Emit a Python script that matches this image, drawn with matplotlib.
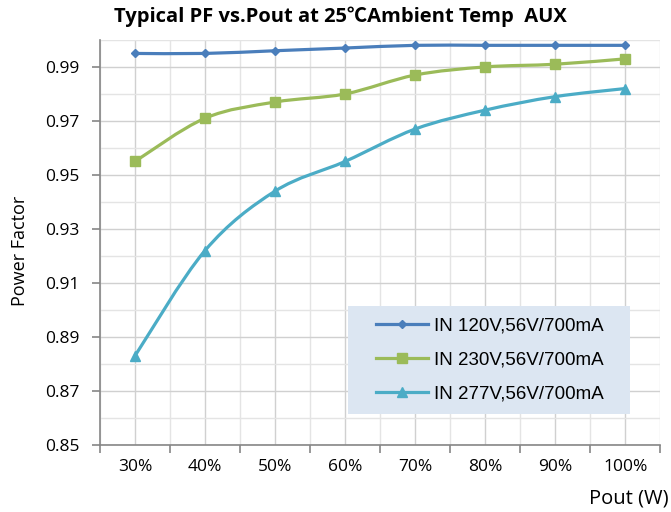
import numpy as np
import matplotlib
matplotlib.use("Agg")
import matplotlib.pyplot as plt
from matplotlib.path import Path
from matplotlib.patches import PathPatch, Rectangle
from matplotlib.lines import Line2D

categories = ["30%", "40%", "50%", "60%", "70%", "80%", "90%", "100%"]
pf_120v = [0.995, 0.995, 0.996, 0.997, 0.998, 0.998, 0.998, 0.998]
pf_230v = [0.955, 0.971, 0.977, 0.980, 0.987, 0.990, 0.991, 0.993]
pf_277v = [0.883, 0.922, 0.944, 0.955, 0.967, 0.974, 0.979, 0.982]
labels = ["IN 120V,56V/700mA", "IN 230V,56V/700mA", "IN 277V,56V/700mA"]
colors = ["#4A7EBB", "#9BBB59", "#4BACC6"]
markers = ["D", "s", "^"]
msizes = [4.5, 6.5, 6.5]

FONTS = ["Open Sans", "Noto Sans CJK SC", "DejaVu Sans"]


def smooth_path(x, y, t=1/6):
    # bezier path through the points, like Excel's smoothed line
    x = np.asarray(x, float)
    y = np.asarray(y, float)
    verts = [(x[0], y[0])]
    codes = [Path.MOVETO]
    n = len(x)
    for i in range(n - 1):
        p0 = (x[max(i - 1, 0)], y[max(i - 1, 0)])
        p1 = (x[i], y[i])
        p2 = (x[i + 1], y[i + 1])
        p3 = (x[min(i + 2, n - 1)], y[min(i + 2, n - 1)])
        c1 = (p1[0] + (p2[0] - p0[0]) * t, p1[1] + (p2[1] - p0[1]) * t)
        c2 = (p2[0] - (p3[0] - p1[0]) * t, p2[1] - (p3[1] - p1[1]) * t)
        verts += [c1, c2, p2]
        codes += [Path.CURVE4] * 3
    return Path(verts, codes)


fig = plt.figure(figsize=(6.71, 5.12), dpi=100)
ax = fig.add_axes([0.149, 0.131, 0.835, 0.791])

xs = np.arange(len(categories))
handles = []
for vals, lab, col, mk, ms in zip([pf_120v, pf_230v, pf_277v], labels, colors, markers, msizes):
    ax.add_patch(PathPatch(smooth_path(xs, vals), facecolor="none", edgecolor=col,
                           lw=2.3, zorder=3, capstyle="round"))
    ax.plot(xs, vals, linestyle="none", marker=mk, ms=ms, color=col, zorder=4)
    handles.append(Line2D([], [], color=col, lw=2.3, marker=mk, ms=ms, label=lab))

ax.set_xlim(-0.5, len(categories) - 0.5)
ax.set_ylim(0.85, 1.0)
ax.set_xticks(xs)
ax.set_xticklabels(categories, fontsize=12.5, family=FONTS)
ax.set_xticks(np.arange(-0.5, len(categories)), minor=True)
ax.tick_params(axis="x", which="major", length=0, pad=10)
ax.tick_params(axis="x", which="minor", length=6, width=1.2, color="#868686", direction="out")
yt = np.arange(0.85, 0.991, 0.02)
ax.set_yticks(yt)
ax.set_yticklabels(["%.2f" % v for v in yt], fontsize=12.5, family=FONTS)
ax.set_yticks(np.arange(0.86, 1.001, 0.02), minor=True)
ax.tick_params(axis="y", which="major", length=6, width=1.2, color="#868686",
               direction="out", pad=9)
ax.tick_params(axis="y", which="minor", length=0)

ax.grid(True, which="major", color="#D0D0D0", lw=1)
ax.grid(True, which="minor", color="#E4E4E4", lw=1)
ax.set_axisbelow(True)
for s in ["top", "right"]:
    ax.spines[s].set_visible(False)
for s in ["left", "bottom"]:
    ax.spines[s].set_color("#868686")
    ax.spines[s].set_linewidth(1.2)

fig.text(0.507, 0.967, "Typical PF vs.Pout at 25\u2103Ambient Temp  AUX", ha="center", va="center",
         fontsize=14.5, fontweight="bold", family=FONTS)
fig.text(0.03, 0.51, "Power Factor", rotation=90, ha="center", va="center",
         fontsize=13, family=FONTS)
fig.text(0.996, 0.026, "Pout (W)", ha="right", va="center", fontsize=14.5, family=FONTS)

# legend box
ax.add_patch(Rectangle((0.443, 0.0765), 0.503, 0.2665, transform=ax.transAxes,
                       facecolor="#DCE6F2", edgecolor="none", zorder=5))
leg = ax.legend(handles=handles, loc="center left", bbox_to_anchor=(0.493, 0.21),
                frameon=False, borderpad=0, labelspacing=0.92, borderaxespad=0,
                handlelength=2.77, handletextpad=0.32,
                prop={"family": "Liberation Sans", "size": 13.5})
leg.set_zorder(6)

fig.savefig("out.png", dpi=100)
